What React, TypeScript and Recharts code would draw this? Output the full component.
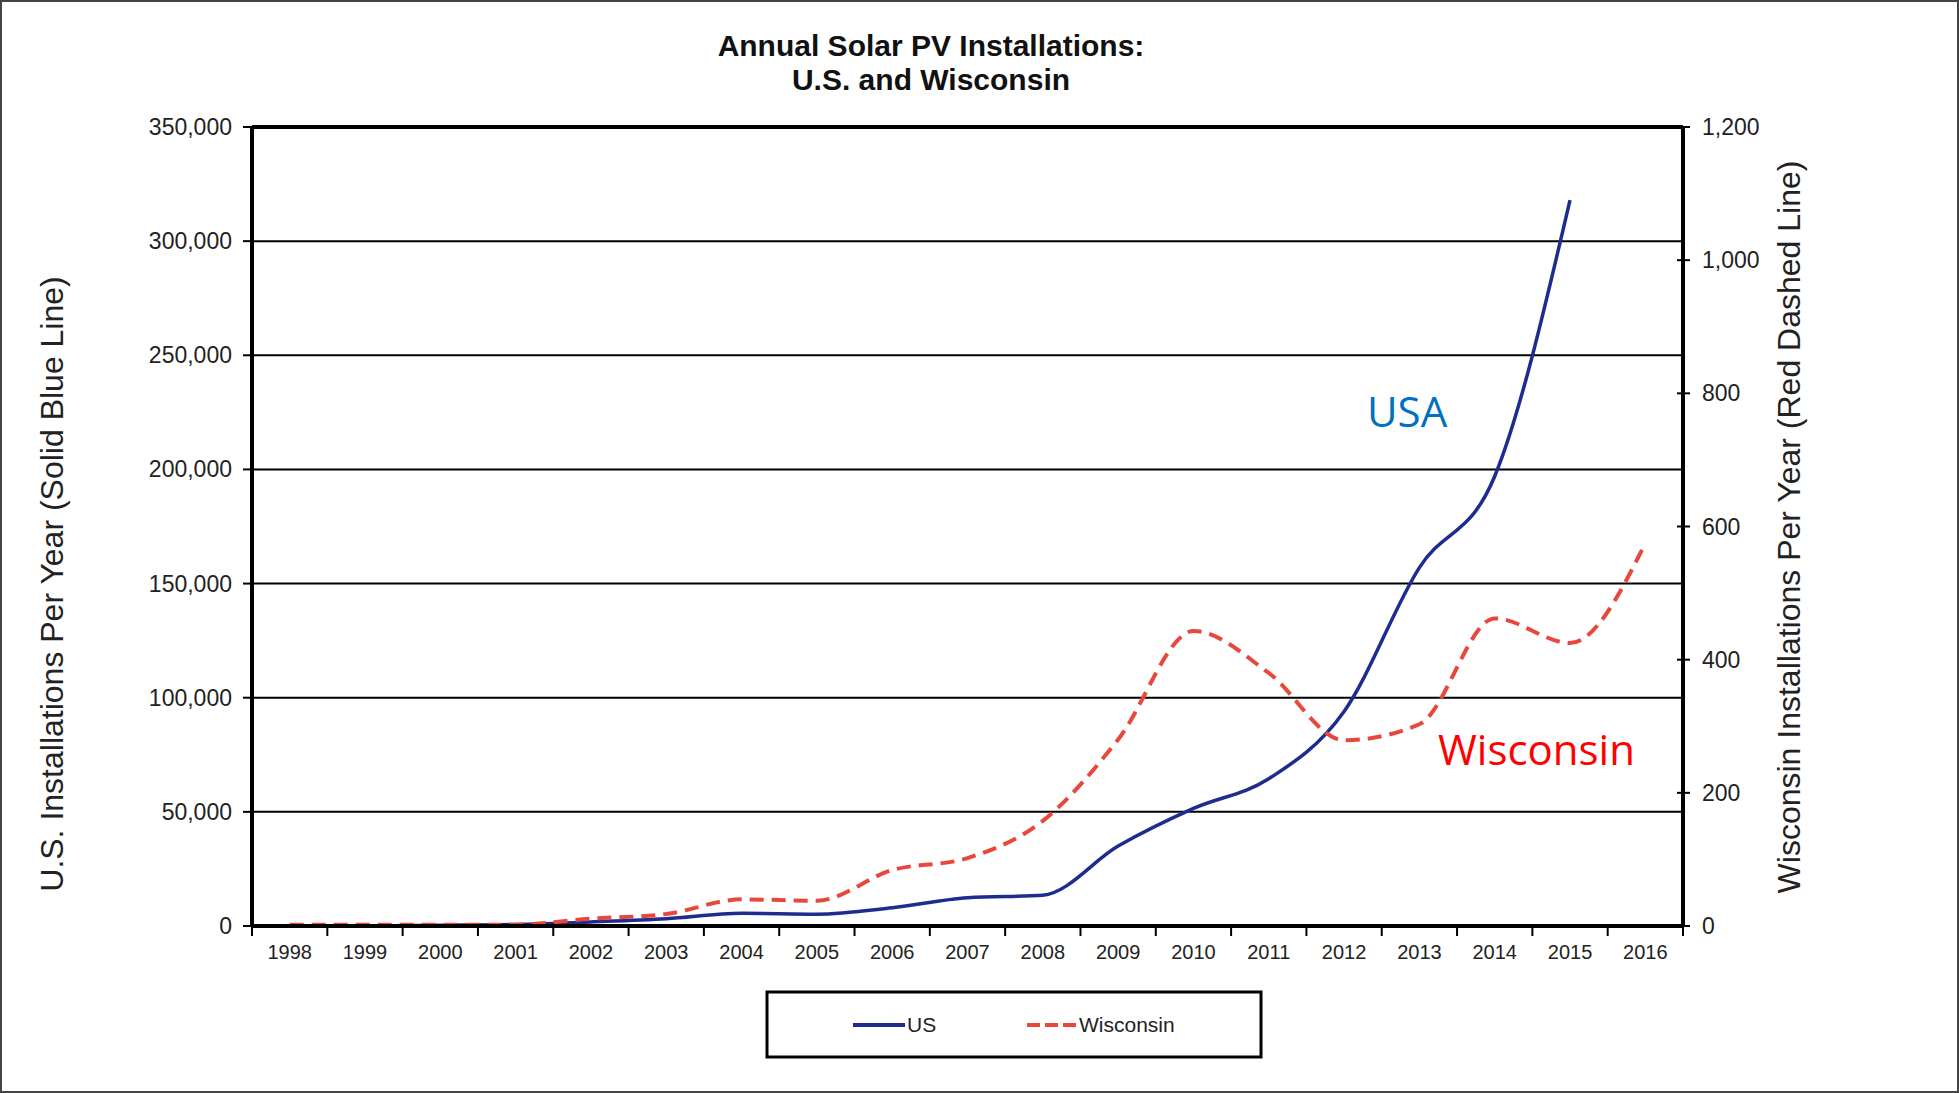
import { LineChart, Line, XAxis, YAxis, CartesianGrid, ReferenceLine } from 'recharts';

const years = ['1998', '1999', '2000', '2001', '2002', '2003', '2004', '2005', '2006', '2007', '2008', '2009', '2010', '2011', '2012', '2013', '2014', '2015', '2016'];
const usInstalls = [0, 0, 300, 700, 1800, 3200, 5600, 5200, 8000, 12400, 13500, 35000, 51500, 64500, 94000, 157000, 197000, 318000, null];
const wiInstalls = [2, 2, 2, 2, 11, 18, 40, 38, 84, 102, 158, 280, 443, 380, 279, 303, 462, 425, 575];
const leftTicks = [0, 50000, 100000, 150000, 200000, 250000, 300000, 350000];
const rightTicks = [0, 200, 400, 600, 800, 1000, 1200];

const W = 1959;
const H = 1093;
const PLOT = { left: 252, right: 1683, top: 127, bottom: 926 };
const STEP = (PLOT.right - PLOT.left) / years.length;
const FONT = '"Liberation Sans", Arial, sans-serif';
const US_COLOR = '#1f2c8f';
const WI_COLOR = '#e8473d';

const data = years.map((year, i) => ({ year, us: usInstalls[i], wi: wiInstalls[i] }));
const fmt = (v: number) => v.toLocaleString('en-US');

function LeftTick({ x, y, payload }: any) {
  return (
    <g>
      <line x1={PLOT.left - 9} x2={PLOT.left} y1={y} y2={y} stroke="#000" strokeWidth={2} />
      <text x={x} y={y} dy="0.35em" textAnchor="end" fontSize={23} fill="#222" fontFamily={FONT}>
        {fmt(payload.value)}
      </text>
    </g>
  );
}

function RightTick({ x, y, payload }: any) {
  return (
    <g>
      <line x1={PLOT.right - 6} x2={PLOT.right + 7} y1={y} y2={y} stroke="#000" strokeWidth={2} />
      <text x={x} y={y} dy="0.35em" textAnchor="start" fontSize={23} fill="#222" fontFamily={FONT}>
        {fmt(payload.value)}
      </text>
    </g>
  );
}

function XTick({ x, y, payload }: any) {
  const isLast = payload.value === years[years.length - 1];
  return (
    <g>
      <line x1={x - STEP / 2} x2={x - STEP / 2} y1={PLOT.bottom} y2={PLOT.bottom + 10} stroke="#000" strokeWidth={2} />
      {isLast && (
        <line x1={x + STEP / 2} x2={x + STEP / 2} y1={PLOT.bottom} y2={PLOT.bottom + 10} stroke="#000" strokeWidth={2} />
      )}
      <text x={x} y={y} dy="0.71em" textAnchor="middle" fontSize={20} fill="#222" fontFamily={FONT}>
        {payload.value}
      </text>
    </g>
  );
}

export default function App() {
  return (
    <div style={{ position: 'relative', width: W, height: H, background: '#fff' }}>
      <style>{'body{margin:0}'}</style>
      <LineChart
        width={W}
        height={H}
        data={data}
        margin={{ top: PLOT.top, right: W - PLOT.right - 80, bottom: H - PLOT.bottom - 50, left: PLOT.left - 120 }}
      >
        <CartesianGrid vertical={false} stroke="#000" strokeWidth={2} />
        <XAxis
          dataKey="year"
          height={50}
          interval={0}
          padding={{ left: STEP / 2, right: STEP / 2 }}
          tickSize={0}
          tickMargin={19}
          tickLine={false}
          axisLine={{ stroke: '#000', strokeWidth: 4 }}
          tick={<XTick />}
        />
        <YAxis
          width={120}
          domain={[0, 350000]}
          ticks={leftTicks}
          interval={0}
          tickSize={0}
          tickMargin={20}
          tickLine={false}
          axisLine={{ stroke: '#000', strokeWidth: 4 }}
          tick={<LeftTick />}
        />
        <YAxis
          yAxisId="right"
          orientation="right"
          width={80}
          domain={[0, 1200]}
          ticks={rightTicks}
          interval={0}
          tickSize={0}
          tickMargin={19}
          tickLine={false}
          axisLine={{ stroke: '#000', strokeWidth: 4 }}
          tick={<RightTick />}
        />
        <ReferenceLine y={350000} stroke="#000" strokeWidth={4} />
        <Line
          type="monotone"
          dataKey="us"
          stroke={US_COLOR}
          strokeWidth={3.5}
          dot={false}
          isAnimationActive={false}
        />
        <Line
          type="monotone"
          dataKey="wi"
          yAxisId="right"
          stroke={WI_COLOR}
          strokeWidth={4}
          strokeDasharray="14 8"
          dot={false}
          isAnimationActive={false}
        />
      </LineChart>

      {/* title, axis titles, annotations and legend */}
      <svg width={W} height={H} style={{ position: 'absolute', left: 0, top: 0, pointerEvents: 'none' }}>
        <text x={931} y={56} textAnchor="middle" fontSize={30} fontWeight="bold" fill="#111" fontFamily={FONT}>
          Annual Solar PV Installations:
        </text>
        <text x={931} y={90} textAnchor="middle" fontSize={30} fontWeight="bold" fill="#111" fontFamily={FONT}>
          U.S. and Wisconsin
        </text>
        <text
          transform="translate(52,584) rotate(-90)"
          textAnchor="middle"
          dy="0.35em"
          fontSize={32}
          fill="#222"
          fontFamily={FONT}
        >
          U.S. Installations Per Year (Solid Blue Line)
        </text>
        <text
          transform="translate(1789,527) rotate(-90)"
          textAnchor="middle"
          dy="0.35em"
          fontSize={32}
          fill="#222"
          fontFamily={FONT}
        >
          Wisconsin Installations Per Year (Red Dashed Line)
        </text>
        <text x={1367} y={427} fontSize={42} fill="#0070c0" fontFamily='"Open Sans", sans-serif'>
          USA
        </text>
        <text x={1438} y={765} fontSize={42} fill="#ff0000" fontFamily='"Open Sans", sans-serif'>
          Wisconsin
        </text>

        <rect x={767} y={992} width={494} height={65} fill="#fff" stroke="#000" strokeWidth={3} />
        <line x1={853} x2={905} y1={1025} y2={1025} stroke={US_COLOR} strokeWidth={4} />
        <text x={907} y={1025} dy="0.35em" fontSize={21} fill="#222" fontFamily={FONT}>US</text>
        <line x1={1027} x2={1077} y1={1025} y2={1025} stroke={WI_COLOR} strokeWidth={4} strokeDasharray="13 5" />
        <text x={1079} y={1025} dy="0.35em" fontSize={21} fill="#222" fontFamily={FONT}>Wisconsin</text>
      </svg>
      <div
        style={{
          position: 'absolute',
          left: 0,
          top: 0,
          width: W,
          height: H,
          boxSizing: 'border-box',
          border: '2px solid #444',
          pointerEvents: 'none',
        }}
      />
    </div>
  );
}
